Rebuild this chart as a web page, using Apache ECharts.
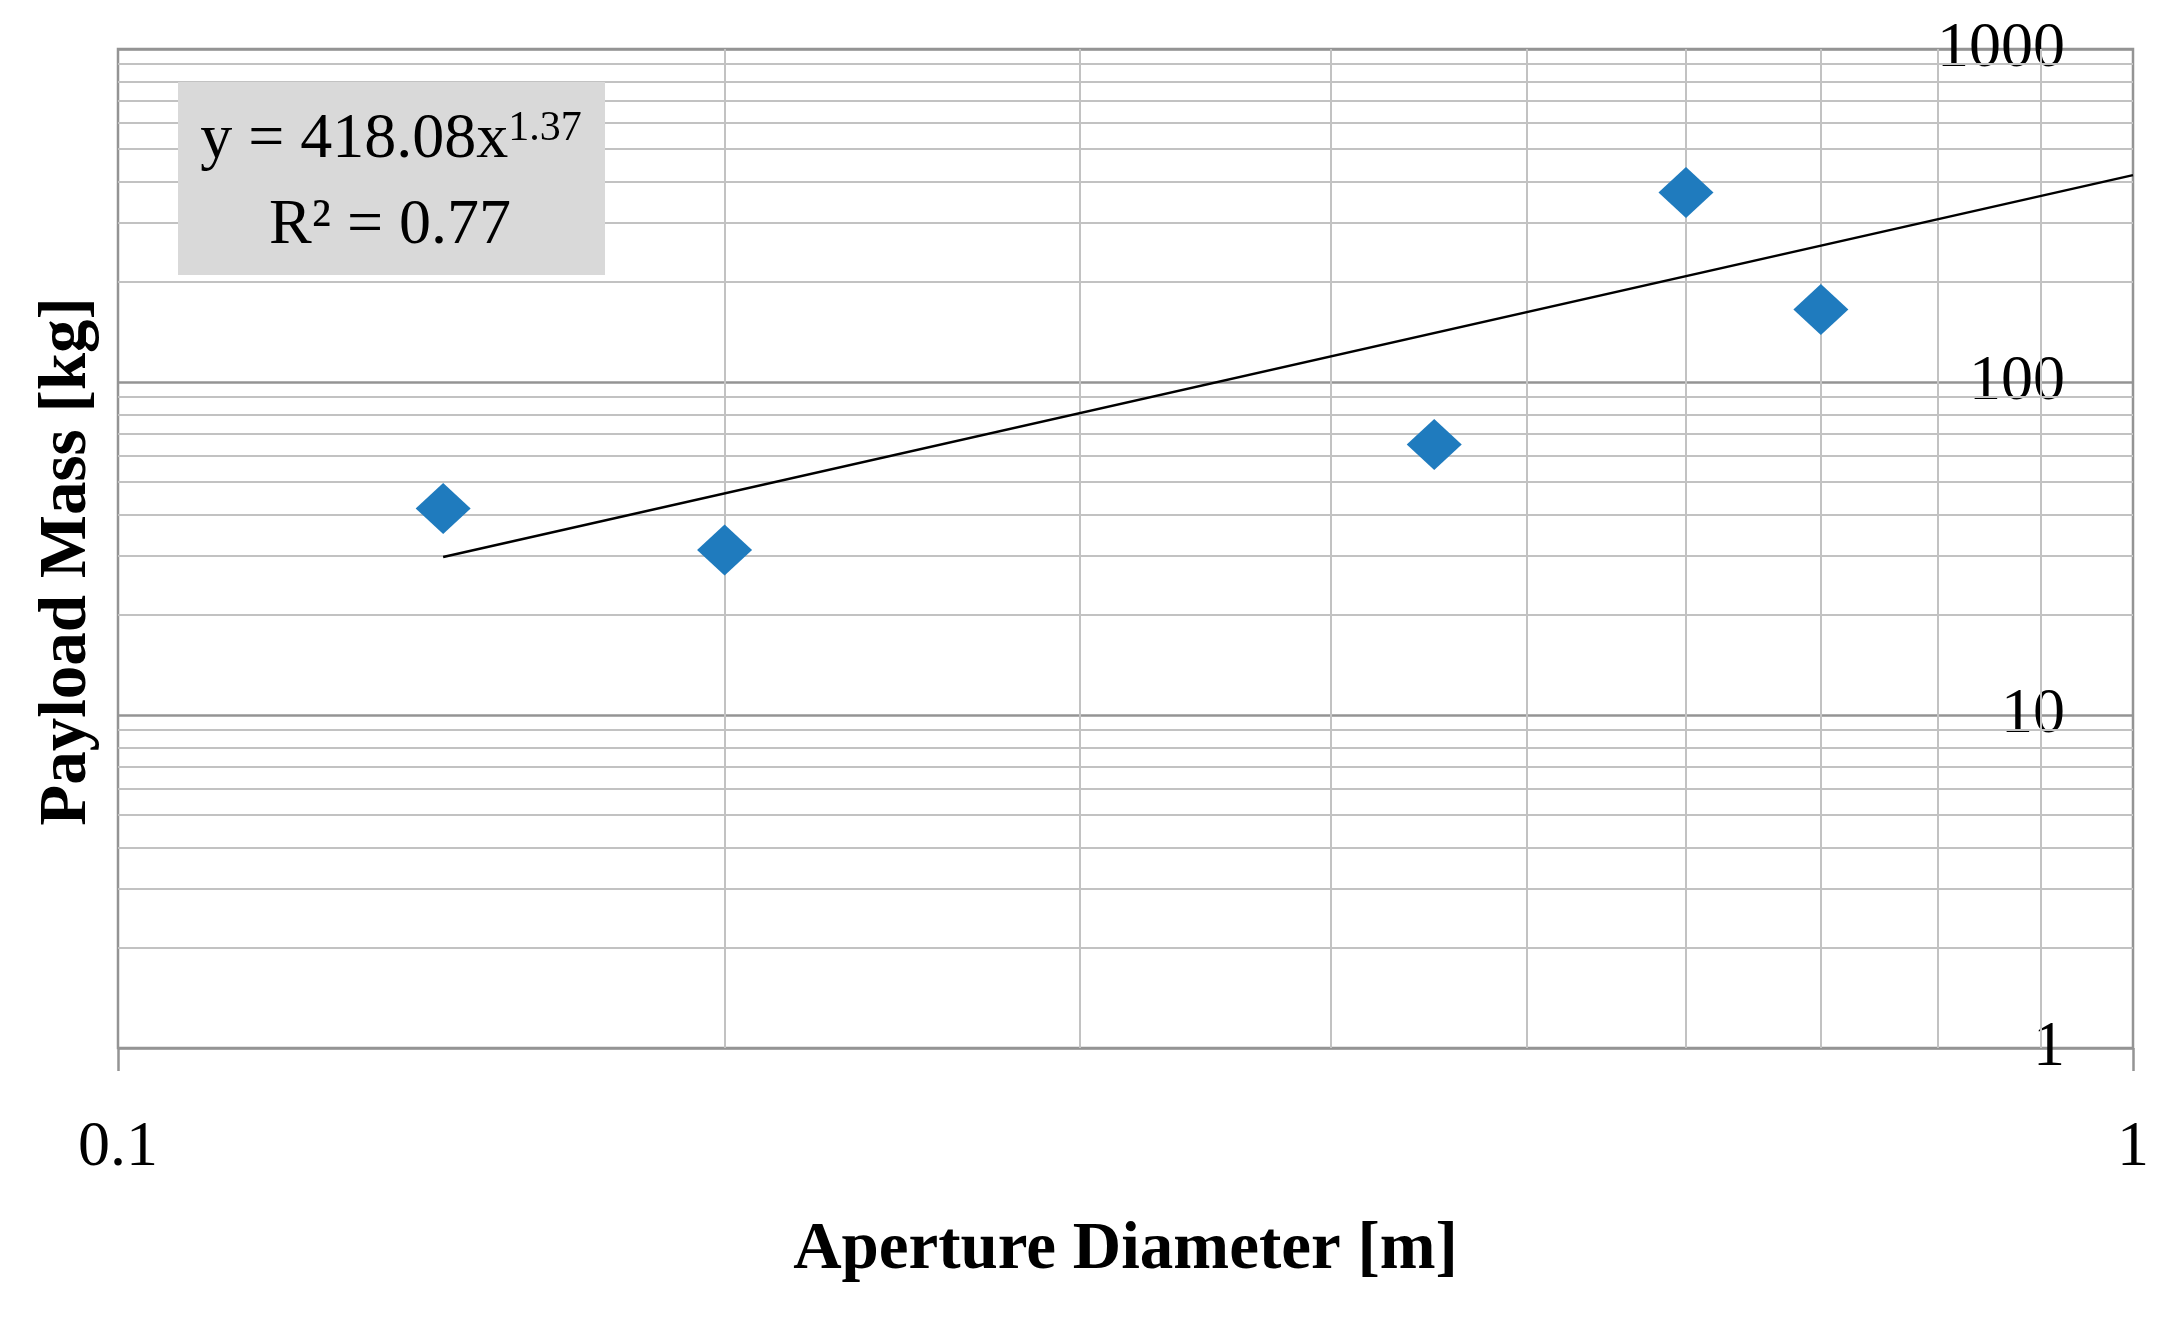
<!DOCTYPE html>
<html>
<head>
<meta charset="utf-8">
<script src="https://cdn.jsdelivr.net/npm/echarts@6/dist/echarts.min.js"></script>
<style>
html,body{margin:0;padding:0;background:#fff;}
#chart{width:2176px;height:1325px;}
</style>
</head>
<body>
<div id="chart"></div>
<script>
const diameters = [0.145, 0.2, 0.45, 0.6, 0.7];
const masses = [41.7, 31.3, 64.9, 371, 165];
// Trend line as drawn (power fit y = 418.08x^1.37), endpoints
const trendX = [0.145, 1];
const trendY = [29.8, 418];
// Minor grid positions
const xMinor = [0.2, 0.3, 0.4, 0.5, 0.6, 0.7, 0.8, 0.9];
const yMinor = [2, 3, 4, 5, 6, 7, 8, 9, 20, 30, 40, 50, 60, 70, 80, 90, 200, 300, 400, 500, 600, 700, 800, 900];
const xName = 'Aperture Diameter [m]';
const yName = 'Payload Mass [kg]';
const eqText = 'y = 418.08x';
const eqExp = '1.37';
const r2Text = 'R² = 0.77';

const FONT = 'Liberation Serif';
const MAJOR = '#949494';
const MINOR = '#c2c2c2';

const chart = echarts.init(document.getElementById('chart'));
const minorLines = xMinor.map(v => ({xAxis: v})).concat(yMinor.map(v => ({yAxis: v})));
const fmt = v => String(Math.round(v * 1000) / 1000);

chart.setOption({
  backgroundColor: '#fff',
  animation: false,
  grid: {
    left: 118, right: 43, top: 49, bottom: 277,
    show: true, borderColor: MAJOR, borderWidth: 2.5,
    containLabel: false, outerBoundsMode: 'none'
  },
  xAxis: {
    type: 'log', logBase: 10, min: 0.1, max: 1,
    name: xName, nameLocation: 'middle', nameGap: 169,
    nameTextStyle: {fontFamily: FONT, fontSize: 67, fontWeight: 'bold', color: '#000'},
    axisLine: {show: false},
    axisTick: {show: true, length: 23, lineStyle: {color: MAJOR, width: 2.5}},
    axisLabel: {fontFamily: FONT, fontSize: 64, color: '#000', margin: 68, formatter: fmt},
    splitLine: {show: false}
  },
  yAxis: [{
    type: 'log', logBase: 10, min: 1, max: 1000, position: 'left',
    name: yName, nameLocation: 'middle', nameGap: 17,
    nameTextStyle: {fontFamily: FONT, fontSize: 67, fontWeight: 'bold', color: '#000', padding: [0, 26, 0, 0]},
    axisLine: {show: false}, axisTick: {show: false}, axisLabel: {show: false},
    splitLine: {show: true, lineStyle: {color: MAJOR, width: 2.5}}
  }, {
    type: 'log', logBase: 10, min: 1, max: 1000, position: 'right',
    axisLine: {show: false}, axisTick: {show: false},
    axisLabel: {inside: true, margin: 68, fontFamily: FONT, fontSize: 64, color: '#000', formatter: fmt},
    splitLine: {show: false}
  }],
  series: [{
    type: 'line', data: [], z: 1, silent: true,
    markLine: {
      z: 1, zlevel: 0,
      silent: true, symbol: ['none', 'none'], animation: false,
      label: {show: false},
      lineStyle: {color: MINOR, width: 2, type: 'solid'},
      emphasis: {disabled: true},
      data: minorLines
    }
  }, {
    type: 'line', z: 6,
    data: trendX.map((x, i) => [x, trendY[i]]),
    showSymbol: false, symbol: 'none',
    lineStyle: {color: '#000', width: 2.5}
  }, {
    type: 'scatter', z: 8,
    data: diameters.map((x, i) => [x, masses[i]]),
    symbol: 'diamond', symbolSize: [55, 51],
    itemStyle: {color: '#1F7BBE', opacity: 1}
  }],
  graphic: [{
    type: 'rect', z: 10,
    shape: {x: 178, y: 82, width: 427, height: 193},
    style: {fill: '#d9d9d9'}
  }, {
    type: 'text', z: 11, x: 391, y: 140,
    style: {
      text: eqText + '{s|' + eqExp + '}',
      fontFamily: FONT, fontSize: 64, fill: '#000',
      align: 'center', verticalAlign: 'middle',
      rich: {s: {fontFamily: FONT, fontSize: 42, fill: '#000', verticalAlign: 'top'}}
    }
  }, {
    type: 'text', z: 11, x: 390, y: 226,
    style: {
      text: r2Text, fontFamily: FONT, fontSize: 64, fill: '#000',
      align: 'center', verticalAlign: 'middle'
    }
  }]
});
</script>
</body>
</html>
